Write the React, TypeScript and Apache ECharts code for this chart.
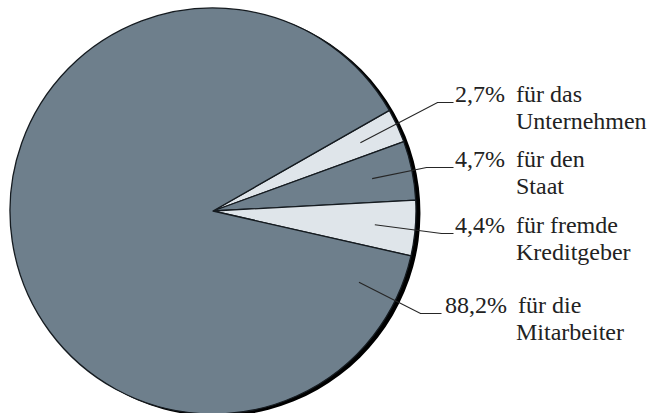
import React, { useEffect, useRef } from 'react';
import * as echarts from 'echarts';

// Wertschöpfung: wer erhält welchen Anteil
const recipients = ['Unternehmen', 'Staat', 'Kreditgeber', 'Mitarbeiter'];
const shares = [2.7, 4.7, 4.4, 88.2];
const headLines = ['für das', 'für den', 'für fremde', 'für die'];
const tailLines = ['Unternehmen', 'Staat', 'Kreditgeber', 'Mitarbeiter'];
const sliceColors = ['#dfe5ea', '#6e7f8c', '#dfe5ea', '#6e7f8c'];

// Layout
const W = 656;
const H = 413;
const CX = 213;
const CY = 211;
const R = 203;
const START_ANGLE = 29.7;
const FONT_FAMILY = '"Liberation Serif", "Times New Roman", serif';
const FONT_SIZE = 24;
const LINE_H = 27;
const PCT_RIGHT = 505; // right edge of the percentage column
const PCT_COL = 60; // width of the percentage column
const TEXT_GAP = 11;
const BASELINES = [102, 167, 233, 313]; // first-line baselines of the labels
const ELBOW_RUN = [16, 27, 12, 21]; // horizontal run of each leader line
const ANCHOR_ANGLE: (number | null)[] = [null, null, null, -26];
const ANCHOR_R = 0.8;
const TEXT_COLOR = '#222222';
const RIM_SHIFT = [4, 2];

const fmtPct = (v: number) => v.toFixed(1).replace('.', ',') + '%';

function measure(text: string): number {
  const ctx = document.createElement('canvas').getContext('2d');
  if (!ctx) return text.length * FONT_SIZE * 0.52;
  ctx.font = `${FONT_SIZE}px ${FONT_FAMILY}`;
  return ctx.measureText(text).width;
}

export default function App() {
  const ref = useRef<HTMLDivElement>(null);

  useEffect(() => {
    if (!ref.current) return;
    const chart = echarts.init(ref.current, undefined, { renderer: 'svg' });

    const total = shares.reduce((a, b) => a + b, 0);
    const midAngles: number[] = [];
    let acc = START_ANGLE;
    shares.forEach((v) => {
      const span = (v / total) * 360;
      midAngles.push(acc - span / 2);
      acc -= span;
    });

    const pctWidths = shares.map((v) => measure(fmtPct(v)));

    // central baseline offset of the first line inside its line box
    const baselineOffset = LINE_H / 2 + 0.3375 * FONT_SIZE;

    const textStyle = {
      fontFamily: FONT_FAMILY,
      fontSize: FONT_SIZE,
      color: TEXT_COLOR,
      lineHeight: LINE_H,
    };

    const rich: Record<string, any> = {
      t: { ...textStyle, padding: [0, 0, 0, TEXT_GAP] },
      s: { ...textStyle, width: PCT_COL },
    };
    pctWidths.forEach((w, i) => {
      rich['p' + i] = { ...textStyle, padding: [0, 0, 0, Math.max(0, PCT_COL - w)] };
    });

    const pieData = recipients.map((name, i) => ({ name, value: shares[i] }));

    chart.setOption({
      animation: false,
      series: [
        {
          // dark rim, shifted right and down, gives the heavier edge on that side
          type: 'pie',
          silent: true,
          z: 1,
          center: [CX + RIM_SHIFT[0], CY + RIM_SHIFT[1]],
          radius: R + 0.5,
          startAngle: START_ANGLE,
          label: { show: false },
          labelLine: { show: false },
          emphasis: { disabled: true },
          itemStyle: { color: '#000000', borderWidth: 0 },
          data: [{ value: 1, name: 'Rand' }],
        },
        {
          // the slices
          type: 'pie',
          silent: true,
          z: 2,
          center: [CX, CY],
          radius: R,
          startAngle: START_ANGLE,
          clockwise: true,
          emphasis: { disabled: true },
          itemStyle: { borderColor: '#151b20', borderWidth: 1.3 },
          label: { show: false },
          labelLine: { show: false },
          data: pieData.map((d, i) => ({ ...d, itemStyle: { color: sliceColors[i] } })),
        },
        {
          // transparent copy carrying labels and leader lines above the slices
          type: 'pie',
          silent: true,
          z: 5,
          center: [CX, CY],
          radius: R,
          startAngle: START_ANGLE,
          clockwise: true,
          avoidLabelOverlap: false,
          emphasis: { disabled: true },
          itemStyle: { color: 'rgba(0,0,0,0)', borderWidth: 0 },
          data: pieData,
          label: {
            show: true,
            position: 'outside',
            ...textStyle,
            formatter: (p: any) => {
              const i = p.dataIndex;
              return `{p${i}|${fmtPct(shares[i])}}{t|${headLines[i]}}\n{s|}{t|${tailLines[i]}}`;
            },
            rich,
          },
          labelLine: {
            show: true,
            smooth: false,
            lineStyle: { color: '#262626', width: 1.2 },
          },
          labelLayout: (params: any) => {
            const i = params.dataIndex;
            const ang = ((ANCHOR_ANGLE[i] ?? midAngles[i]) * Math.PI) / 180;
            const sx = CX + ANCHOR_R * R * Math.cos(ang);
            const sy = CY - ANCHOR_R * R * Math.sin(ang);
            const ly = BASELINES[i] + 0.5;
            const ex = PCT_RIGHT - pctWidths[i] - 1.5;
            return {
              x: PCT_RIGHT - PCT_COL,
              y: BASELINES[i] - baselineOffset,
              align: 'left',
              verticalAlign: 'top',
              labelLinePoints: [
                [sx, sy],
                [ex - ELBOW_RUN[i], ly],
                [ex, ly],
              ],
            };
          },
        },
      ],
    });

    return () => chart.dispose();
  }, []);

  return (
    <div
      ref={ref}
      style={{ position: 'absolute', left: 0, top: 0, width: W, height: H, background: '#ffffff' }}
    />
  );
}
